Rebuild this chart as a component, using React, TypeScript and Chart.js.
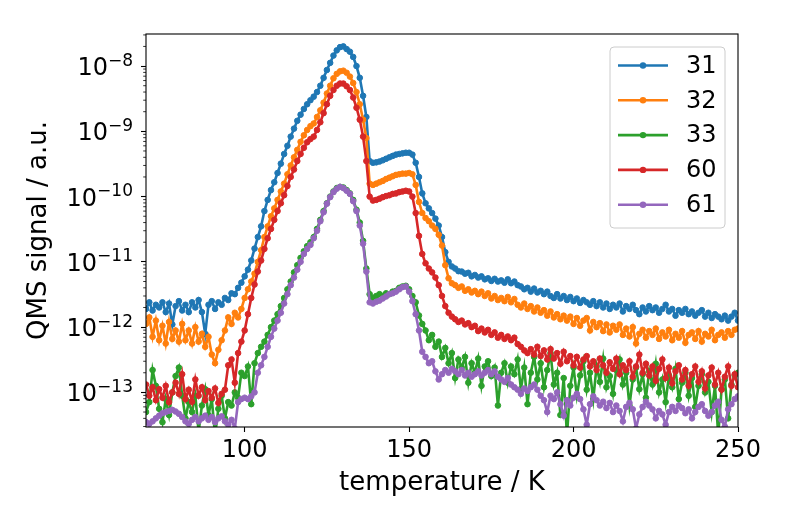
import { useEffect, useRef } from "react";
import { Chart, registerables, type ChartConfiguration, type Plugin } from "chart.js";

Chart.register(...registerables);

// temperature grid, 1 K steps from 70 K to 250 K
const temps = Array.from({ length: 181 }, (_, i) => 70 + i);

// QMS signals (a.u.) for m/z 31, 32, 33, 60, 61, one value per kelvin
const sig31 = [
  1.9e-12, 2.4e-12, 1.8e-12, 2.2e-12, 2.0e-12, 2.4e-12, 1.7e-12, 2.3e-12, 1.1e-12, 2.1e-12,
  2.5e-12, 1.8e-12, 2.2e-12, 1.7e-12, 2.4e-12, 2.0e-12, 2.6e-12, 1.7e-12, 7.9e-13, 2.2e-12,
  2.5e-12, 1.9e-12, 2.4e-12, 2.2e-12, 2.8e-12, 2.6e-12, 3.3e-12, 3.2e-12, 4.0e-12, 4.8e-12,
  6.0e-12, 7.6e-12, 1.05e-11, 1.6e-11, 2.4e-11, 3.5e-11, 6.0e-11, 8.9e-11, 1.26e-10, 1.66e-10,
  2.3e-10, 3.2e-10, 4.5e-10, 6.0e-10, 8.3e-10, 1.1e-9, 1.45e-9, 1.8e-9, 2.2e-9, 2.6e-9,
  3.0e-9, 3.4e-9, 4.0e-9, 5.0e-9, 6.6e-9, 8.7e-9, 1.12e-8, 1.45e-8, 1.74e-8, 1.95e-8,
  2.0e-8, 1.82e-8, 1.66e-8, 1.38e-8, 1.0e-8, 6.6e-9, 3.5e-9, 1.66e-9, 3.5e-10, 3.3e-10,
  3.35e-10, 3.45e-10, 3.6e-10, 3.8e-10, 4.0e-10, 4.2e-10, 4.4e-10, 4.5e-10, 4.6e-10, 4.7e-10,
  4.7e-10, 4.4e-10, 3.3e-10, 2.0e-10, 1.12e-10, 7.9e-11, 6.6e-11, 5.6e-11, 4.6e-11, 3.6e-11,
  2.4e-11, 1.41e-11, 1.0e-11, 8.5e-12, 7.9e-12, 7.2e-12, 7.1e-12, 6.6e-12, 6.8e-12, 6.0e-12,
  6.3e-12, 5.75e-12, 6.0e-12, 5.4e-12, 5.6e-12, 5.1e-12, 5.5e-12, 5.0e-12, 5.2e-12, 4.8e-12,
  5.4e-12, 4.7e-12, 5.0e-12, 4.4e-12, 4.2e-12, 3.8e-12, 4.0e-12, 3.5e-12, 3.9e-12, 3.4e-12,
  3.6e-12, 3.2e-12, 3.5e-12, 3.0e-12, 2.8e-12, 3.2e-12, 2.75e-12, 3.0e-12, 2.6e-12, 2.9e-12,
  2.5e-12, 2.75e-12, 2.35e-12, 2.6e-12, 2.4e-12, 2.2e-12, 2.5e-12, 2.1e-12, 2.4e-12, 2.0e-12,
  2.3e-12, 1.9e-12, 2.2e-12, 2.0e-12, 2.3e-12, 1.74e-12, 2.1e-12, 1.9e-12, 2.2e-12, 1.82e-12,
  1.58e-12, 2.0e-12, 1.74e-12, 2.1e-12, 1.82e-12, 2.0e-12, 1.66e-12, 1.9e-12, 2.2e-12, 1.74e-12,
  1.9e-12, 1.5e-12, 1.82e-12, 1.66e-12, 1.9e-12, 1.58e-12, 1.74e-12, 1.5e-12, 1.66e-12, 1.82e-12,
  1.45e-12, 1.66e-12, 1.38e-12, 1.58e-12, 1.45e-12, 1.32e-12, 1.5e-12, 1.26e-12, 1.45e-12, 1.66e-12,
  1.26e-12,
];

const sig32 = [
  1.12e-12, 1.41e-12, 7.1e-13, 1.26e-12, 6.3e-13, 1.05e-12, 5.6e-13, 1.2e-12, 6.6e-13, 8.9e-13,
  6.0e-13, 1.12e-12, 6.3e-13, 8.9e-13, 5.6e-13, 1.0e-12, 6.0e-13, 7.9e-13, 5.0e-13, 7.1e-13,
  3.8e-13, 2.8e-13, 4.5e-13, 6.3e-13, 8.9e-13, 1.41e-12, 1.12e-12, 1.66e-12, 1.41e-12, 1.9e-12,
  2.8e-12, 3.8e-12, 5.0e-12, 6.6e-12, 1.0e-11, 1.51e-11, 2.4e-11, 3.5e-11, 5.0e-11, 6.6e-11,
  8.9e-11, 1.2e-10, 1.58e-10, 2.2e-10, 3.0e-10, 4.0e-10, 5.2e-10, 6.9e-10, 8.7e-10, 1.05e-9,
  1.2e-9, 1.32e-9, 1.66e-9, 2.1e-9, 2.75e-9, 3.8e-9, 5.0e-9, 6.5e-9, 7.6e-9, 8.3e-9,
  8.5e-9, 7.9e-9, 6.9e-9, 5.5e-9, 4.0e-9, 2.6e-9, 1.51e-9, 7.9e-10, 1.58e-10, 1.51e-10,
  1.58e-10, 1.66e-10, 1.74e-10, 1.86e-10, 1.95e-10, 2.05e-10, 2.15e-10, 2.2e-10, 2.25e-10, 2.25e-10,
  2.3e-10, 2.2e-10, 1.51e-10, 8.3e-11, 5.6e-11, 4.7e-11, 4.2e-11, 3.6e-11, 3.2e-11, 2.6e-11,
  1.78e-11, 8.9e-12, 5.6e-12, 4.7e-12, 4.4e-12, 4.0e-12, 4.2e-12, 3.6e-12, 3.8e-12, 3.4e-12,
  3.6e-12, 3.2e-12, 3.5e-12, 3.0e-12, 3.3e-12, 2.75e-12, 3.0e-12, 2.6e-12, 2.8e-12, 2.5e-12,
  2.9e-12, 2.4e-12, 2.7e-12, 2.2e-12, 2.0e-12, 2.3e-12, 1.9e-12, 2.1e-12, 1.74e-12, 2.0e-12,
  1.66e-12, 1.82e-12, 1.5e-12, 1.74e-12, 1.41e-12, 1.58e-12, 1.32e-12, 1.5e-12, 1.26e-12, 1.45e-12,
  1.12e-12, 1.38e-12, 1.05e-12, 1.26e-12, 1.38e-12, 8.9e-13, 1.2e-12, 1.0e-12, 1.15e-12, 8.7e-13,
  1.1e-12, 8.3e-13, 1.05e-12, 9.1e-13, 1.1e-12, 7.6e-13, 9.5e-13, 7.2e-13, 1.0e-12, 5.6e-13,
  7.9e-13, 9.1e-13, 6.9e-13, 8.7e-13, 7.6e-13, 9.5e-13, 6.6e-13, 8.3e-13, 7.2e-13, 9.1e-13,
  6.3e-13, 7.9e-13, 6.9e-13, 8.7e-13, 5.75e-13, 7.6e-13, 8.3e-13, 6.6e-13, 8.7e-13, 6.0e-13,
  7.9e-13, 7.2e-13, 9.1e-13, 6.3e-13, 7.6e-13, 8.3e-13, 6.9e-13, 8.7e-13, 7.6e-13, 9.1e-13,
  9.5e-13,
];

const sig33 = [
  5.0e-14, 7.1e-14, 2.2e-13, 1.26e-13, 5.6e-14, 3.5e-14, 7.9e-14, 4.5e-14, 1.0e-13, 1.78e-13,
  2.4e-13, 8.9e-14, 4.0e-14, 7.1e-14, 5.0e-14, 8.9e-14, 2.5e-14, 6.3e-14, 1.12e-13, 4.5e-14,
  7.9e-14, 2.2e-14, 5.6e-14, 8.9e-14, 4.0e-14, 7.1e-14, 6.3e-14, 1.0e-13, 8.3e-14, 2.0e-13,
  1.78e-13, 2.5e-13, 6.6e-14, 2.8e-13, 4.0e-13, 5.0e-13, 6.0e-13, 7.6e-13, 1.0e-12, 1.26e-12,
  1.58e-12, 2.1e-12, 2.8e-12, 3.8e-12, 5.0e-12, 6.9e-12, 8.9e-12, 1.15e-11, 1.45e-11, 1.74e-11,
  2.0e-11, 2.4e-11, 3.2e-11, 4.4e-11, 6.0e-11, 7.9e-11, 1.0e-10, 1.2e-10, 1.35e-10, 1.41e-10,
  1.38e-10, 1.26e-10, 1.12e-10, 8.9e-11, 6.3e-11, 4.0e-11, 2.1e-11, 7.9e-12, 3.2e-12, 2.8e-12,
  3.0e-12, 3.2e-12, 3.0e-12, 3.3e-12, 3.2e-12, 3.5e-12, 3.6e-12, 4.0e-12, 4.2e-12, 4.3e-12,
  3.8e-12, 3.0e-12, 2.4e-12, 1.51e-12, 1.12e-12, 8.9e-13, 6.3e-13, 7.6e-13, 5.0e-13, 6.0e-13,
  3.5e-13, 4.8e-13, 2.8e-13, 4.0e-13, 1.66e-13, 3.2e-13, 2.4e-13, 3.5e-13, 1.41e-13, 2.8e-13,
  2.0e-13, 3.3e-13, 1.26e-13, 2.5e-13, 3.0e-13, 1.78e-13, 2.4e-13, 6.3e-14, 2.0e-13, 2.8e-13,
  1.41e-13, 2.5e-13, 1.9e-13, 3.2e-13, 1.12e-13, 2.4e-13, 6.6e-14, 2.0e-13, 3.5e-13, 1.58e-13,
  2.8e-13, 1.2e-13, 2.2e-13, 4.0e-13, 1.32e-13, 2.0e-13, 4.5e-14, 1.66e-13, 2.2e-14, 1.26e-13,
  2.4e-13, 8.9e-14, 1.82e-13, 3.0e-13, 1.1e-13, 2.0e-13, 7.9e-14, 2.5e-13, 1.45e-13, 3.3e-13,
  1.2e-13, 1.78e-13, 9.5e-14, 2.2e-13, 3.2e-13, 1.32e-13, 2.0e-13, 6.3e-14, 1.58e-13, 2.4e-13,
  1.12e-13, 1.9e-13, 8.3e-14, 2.1e-13, 1.32e-13, 2.75e-13, 1.0e-13, 1.58e-13, 7.1e-14, 1.82e-13,
  1.2e-13, 2.3e-13, 7.9e-14, 1.41e-13, 2.0e-13, 8.9e-14, 1.66e-13, 6.0e-14, 1.26e-13, 1.9e-13,
  1.0e-13, 1.45e-13, 5.0e-14, 1.26e-13, 2.2e-14, 1.12e-13, 1.58e-13, 4.0e-14, 1.32e-13, 1.82e-13,
  2.0e-13,
];

const sig60 = [
  1.32e-13, 8.9e-14, 1.2e-13, 7.6e-14, 1.12e-13, 8.3e-14, 1.26e-13, 7.1e-14, 1.0e-13, 1.41e-13,
  9.5e-14, 1.9e-13, 7.9e-14, 1.1e-13, 7.2e-14, 1.58e-13, 8.9e-14, 1.2e-13, 7.6e-14, 1.05e-13,
  8.3e-14, 1.15e-13, 6.9e-14, 9.5e-14, 1.1e-13, 2.6e-13, 3.2e-13, 1.41e-13, 4.0e-13, 6.0e-13,
  8.9e-13, 1.58e-12, 2.8e-12, 4.5e-12, 7.1e-12, 1.05e-11, 1.58e-11, 2.3e-11, 3.2e-11, 4.4e-11,
  6.0e-11, 7.9e-11, 1.05e-10, 1.45e-10, 2.0e-10, 2.6e-10, 3.5e-10, 4.5e-10, 5.6e-10, 6.8e-10,
  7.6e-10, 8.3e-10, 1.05e-9, 1.38e-9, 1.9e-9, 2.6e-9, 3.5e-9, 4.3e-9, 5.0e-9, 5.4e-9,
  5.4e-9, 4.9e-9, 4.3e-9, 3.3e-9, 2.3e-9, 1.51e-9, 8.3e-10, 3.5e-10, 1.0e-10, 8.7e-11,
  8.9e-11, 9.3e-11, 9.8e-11, 1.02e-10, 1.05e-10, 1.1e-10, 1.12e-10, 1.17e-10, 1.2e-10, 1.23e-10,
  1.2e-10, 1.0e-10, 5.6e-11, 2.5e-11, 1.32e-11, 9.5e-12, 7.9e-12, 6.9e-12, 5.75e-12, 4.4e-12,
  3.0e-12, 2.1e-12, 1.66e-12, 1.45e-12, 1.32e-12, 1.2e-12, 1.26e-12, 1.1e-12, 1.15e-12, 1.0e-12,
  1.05e-12, 8.7e-13, 9.5e-13, 8.3e-13, 9.1e-13, 7.6e-13, 8.3e-13, 6.9e-13, 7.6e-13, 6.6e-13,
  7.2e-13, 6.3e-13, 6.9e-13, 5.5e-13, 5.0e-13, 4.4e-13, 4.0e-13, 4.6e-13, 3.8e-13, 5.0e-13,
  3.6e-13, 4.4e-13, 3.2e-13, 4.6e-13, 3.3e-13, 4.0e-13, 2.75e-13, 4.2e-13, 3.0e-13, 3.6e-13,
  2.6e-13, 3.5e-13, 2.4e-13, 3.2e-13, 3.6e-13, 2.5e-13, 3.0e-13, 2.2e-13, 3.3e-13, 2.6e-13,
  2.0e-13, 2.9e-13, 2.3e-13, 3.3e-13, 1.9e-13, 2.6e-13, 2.2e-13, 3.0e-13, 1.74e-13, 2.5e-13,
  3.8e-13, 2.0e-13, 2.75e-13, 1.82e-13, 2.5e-13, 1.51e-13, 2.3e-13, 3.2e-13, 1.66e-13, 2.4e-13,
  1.38e-13, 2.1e-13, 2.6e-13, 1.58e-13, 2.2e-13, 1.26e-13, 1.9e-13, 2.5e-13, 1.45e-13, 2.1e-13,
  1.15e-13, 1.82e-13, 2.4e-13, 1.32e-13, 2.0e-13, 1.1e-13, 1.74e-13, 2.5e-13, 1.26e-13, 1.9e-13,
  1.2e-13,
];

const sig61 = [
  3.5e-14, 3.3e-14, 3.6e-14, 4.0e-14, 4.4e-14, 4.8e-14, 5.0e-14, 5.2e-14, 5.4e-14, 5.1e-14,
  4.7e-14, 4.2e-14, 3.6e-14, 3.3e-14, 3.8e-14, 4.2e-14, 3.6e-14, 4.0e-14, 4.4e-14, 3.8e-14,
  4.2e-14, 3.5e-14, 4.0e-14, 4.3e-14, 3.6e-14, 3.2e-14, 3.8e-14, 2.8e-14, 7.1e-14, 7.9e-14,
  8.3e-14, 7.9e-14, 8.7e-14, 1.0e-13, 2.0e-13, 2.6e-13, 3.5e-13, 5.0e-13, 7.1e-13, 9.5e-13,
  1.26e-12, 1.66e-12, 2.3e-12, 3.2e-12, 4.4e-12, 5.75e-12, 7.6e-12, 1.0e-11, 1.32e-11, 1.58e-11,
  1.82e-11, 2.3e-11, 3.0e-11, 4.2e-11, 5.75e-11, 7.8e-11, 9.8e-11, 1.17e-10, 1.32e-10, 1.41e-10,
  1.35e-10, 1.23e-10, 1.1e-10, 8.5e-11, 6.0e-11, 3.6e-11, 1.9e-11, 7.1e-12, 2.4e-12, 2.3e-12,
  2.45e-12, 2.55e-12, 2.75e-12, 2.95e-12, 3.2e-12, 3.3e-12, 3.5e-12, 3.8e-12, 4.1e-12, 4.2e-12,
  3.5e-12, 2.5e-12, 1.58e-12, 8.9e-13, 4.2e-13, 3.5e-13, 2.8e-13, 3.0e-13, 2.1e-13, 1.58e-13,
  1.9e-13, 2.2e-13, 2.0e-13, 2.3e-13, 2.1e-13, 1.9e-13, 2.2e-13, 1.82e-13, 2.0e-13, 1.74e-13,
  1.9e-13, 2.1e-13, 1.82e-13, 2.0e-13, 2.2e-13, 1.9e-13, 2.1e-13, 1.74e-13, 1.58e-13, 1.45e-13,
  1.66e-13, 1.32e-13, 1.2e-13, 1.1e-13, 9.5e-14, 1.15e-13, 1.05e-13, 1.2e-13, 1.32e-13, 1.1e-13,
  8.9e-14, 7.6e-14, 5.0e-14, 8.9e-14, 7.9e-14, 1.0e-13, 6.6e-14, 4.4e-14, 7.6e-14, 6.3e-14,
  8.3e-14, 9.5e-14, 7.9e-14, 5.5e-14, 3.2e-14, 6.6e-14, 8.7e-14, 7.6e-14, 6.3e-14, 7.2e-14,
  5.75e-14, 6.9e-14, 5.0e-14, 6.3e-14, 5.2e-14, 3.6e-14, 6.0e-14, 6.9e-14, 5.5e-14, 2.8e-14,
  4.6e-14, 6.0e-14, 7.2e-14, 6.3e-14, 5.5e-14, 4.0e-14, 5.2e-14, 4.6e-14, 3.2e-14, 5.0e-14,
  6.0e-14, 5.2e-14, 6.3e-14, 5.75e-14, 4.8e-14, 5.5e-14, 4.0e-14, 5.0e-14, 6.0e-14, 6.6e-14,
  5.2e-14, 4.4e-14, 5.0e-14, 6.3e-14, 7.2e-14, 3.8e-14, 3.0e-14, 5.5e-14, 6.6e-14, 7.9e-14,
  8.7e-14,
];

const seriesLabels = ["31", "32", "33", "60", "61"];
const seriesData = [sig31, sig32, sig33, sig60, sig61];
const seriesColors = ["#1f77b4", "#ff7f0e", "#2ca02c", "#d62728", "#9467bd"];

const xTickValues = [100, 150, 200, 250];
const yDecades = [-14, -13, -12, -11, -10, -9, -8];
const X_MIN = 70;
const X_MAX = 250;
const Y_MIN = 2.95e-14;
const Y_MAX = 3.1e-8;

const FONT = "'DejaVu Sans', sans-serif";

// major + minor ticks of the log axis (1..9 x 10^n inside the range)
const yTicks: { value: number; major: boolean }[] = [];
for (const d of yDecades) {
  for (let m = 1; m <= 9; m++) {
    const v = m * Math.pow(10, d);
    if (v >= Y_MIN && v <= Y_MAX) yTicks.push({ value: v, major: m === 1 });
  }
}

// frame, short minor ticks, 10^n labels with a raised exponent, and a legend box
const decor: Plugin<"line"> = {
  id: "decor",
  afterDatasetsDraw(chart) {
    const { ctx, chartArea: a } = chart;
    const y = chart.scales.y;
    ctx.save();
    ctx.strokeStyle = "#000";
    ctx.lineWidth = 0.8;
    for (const t of y.ticks) {
      if ((t as any).major) continue;
      const py = y.getPixelForValue(t.value);
      ctx.beginPath();
      ctx.moveTo(a.left - 2.8, py);
      ctx.lineTo(a.left, py);
      ctx.stroke();
    }
    ctx.lineWidth = 1.1;
    ctx.strokeRect(a.left, a.top, a.right - a.left, a.bottom - a.top);

    // y tick labels: "10" plus a smaller superscript exponent
    ctx.fillStyle = "#000";
    ctx.textBaseline = "alphabetic";
    ctx.textAlign = "left";
    for (const t of y.ticks) {
      if (!(t as any).major) continue;
      const exp = Math.round(Math.log10(t.value));
      const py = y.getPixelForValue(t.value);
      const base = "10";
      const sup = "\u2212" + String(Math.abs(exp));
      ctx.font = `24px ${FONT}`;
      const wb = ctx.measureText(base).width;
      ctx.font = `17px ${FONT}`;
      const ws = ctx.measureText(sup).width;
      const x0 = a.left - 13 - wb - ws;
      ctx.font = `24px ${FONT}`;
      ctx.fillText(base, x0, py + 9);
      ctx.font = `17px ${FONT}`;
      ctx.fillText(sup, x0 + wb, py - 0.5);
    }
    ctx.restore();
  },
  afterDraw(chart) {
    const { ctx, chartArea: a } = chart;
    const w = 115;
    const h = 181;
    const x0 = a.right - 13 - w;
    const y0 = a.top + 13;
    ctx.save();
    ctx.beginPath();
    ctx.roundRect(x0, y0, w, h, 4);
    ctx.fillStyle = "rgba(255,255,255,0.8)";
    ctx.fill();
    ctx.strokeStyle = "#cccccc";
    ctx.lineWidth = 1;
    ctx.stroke();
    chart.data.datasets.forEach((ds, i) => {
      const cy = y0 + 18.5 + i * 34.8;
      const col = ds.borderColor as string;
      ctx.strokeStyle = col;
      ctx.lineWidth = 2.6;
      ctx.beginPath();
      ctx.moveTo(x0 + 8, cy);
      ctx.lineTo(x0 + 58, cy);
      ctx.stroke();
      ctx.fillStyle = col;
      ctx.beginPath();
      ctx.arc(x0 + 33, cy, 3.2, 0, Math.PI * 2);
      ctx.fill();
      ctx.fillStyle = "#000";
      ctx.font = `24px ${FONT}`;
      ctx.textBaseline = "middle";
      ctx.textAlign = "left";
      ctx.fillText(String(ds.label), x0 + 76, cy + 1);
    });
    ctx.restore();
  },
};

function QmsChart() {
  const canvasRef = useRef<HTMLCanvasElement>(null);
  const chartRef = useRef<Chart<"line"> | null>(null);

  useEffect(() => {
    if (!canvasRef.current) return;
    const config: ChartConfiguration<"line"> = {
      type: "line",
      data: {
        datasets: seriesData.map((vals, i) => ({
          label: seriesLabels[i],
          data: temps.map((t, k) => ({ x: t, y: vals[k] })),
          borderColor: seriesColors[i],
          backgroundColor: seriesColors[i],
          pointBackgroundColor: seriesColors[i],
          pointBorderColor: seriesColors[i],
          borderWidth: 2.6,
          pointRadius: 2.8,
          pointBorderWidth: 1,
          pointHoverRadius: 0,
          tension: 0,
          order: seriesData.length - i,
        })),
      },
      options: {
        animation: false,
        responsive: true,
        maintainAspectRatio: false,
        events: [],
        layout: { padding: { top: 34, right: 51, bottom: 0, left: 0 } },
        plugins: { legend: { display: false }, tooltip: { enabled: false } },
        scales: {
          x: {
            type: "linear",
            min: X_MIN,
            max: X_MAX,
            afterBuildTicks: (s) => {
              s.ticks = xTickValues.map((v) => ({ value: v }));
            },
            afterFit: (s) => {
              s.height = 99;
            },
            ticks: {
              color: "#000",
              font: { family: FONT, size: 24 },
              padding: 4,
              maxRotation: 0,
              autoSkip: false,
            },
            grid: { drawOnChartArea: false, tickLength: 5, tickColor: "#000", tickWidth: 1.1 },
            border: { display: false },
            title: {
              display: true,
              text: "temperature / K",
              color: "#000",
              font: { family: FONT, size: 26 },
              padding: { top: 0, bottom: 27 },
            },
          },
          y: {
            type: "logarithmic",
            min: Y_MIN,
            max: Y_MAX,
            afterBuildTicks: (s) => {
              s.ticks = yTicks.map((t) => ({ ...t }));
            },
            afterFit: (s) => {
              s.width = 146;
            },
            ticks: { display: false, autoSkip: false },
            grid: {
              drawOnChartArea: false,
              tickLength: 5,
              tickWidth: 1.1,
              tickColor: (c: any) => (c.tick && c.tick.major ? "#000" : "rgba(0,0,0,0)"),
            },
            border: { display: false },
            title: {
              display: true,
              text: "QMS signal / a.u.",
              color: "#000",
              font: { family: FONT, size: 26 },
              padding: { top: 24, bottom: 0 },
            },
          },
        },
      },
      plugins: [decor],
    };

    chartRef.current = new Chart(canvasRef.current, config);
    return () => {
      chartRef.current?.destroy();
      chartRef.current = null;
    };
  }, []);

  return (
    <div style={{ position: "absolute", left: 0, top: 0, width: 789, height: 526, background: "#fff" }}>
      <canvas ref={canvasRef} />
    </div>
  );
}

export default function App() {
  return <QmsChart />;
}
